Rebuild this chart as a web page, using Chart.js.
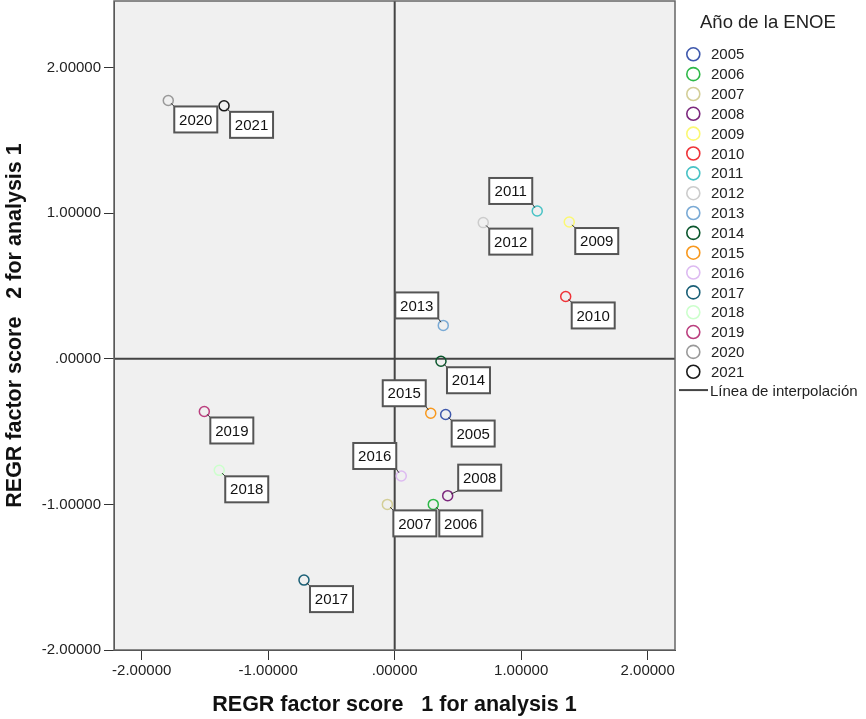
<!DOCTYPE html>
<html>
<head>
<meta charset="utf-8">
<script src="https://cdn.jsdelivr.net/npm/chart.js@4/dist/chart.umd.min.js"></script>
<style>
html,body{margin:0;padding:0;background:#fff;}
#wrap{width:866px;height:719px;position:relative;}
</style>
</head>
<body>
<div id="wrap"><canvas id="c" width="866" height="719"></canvas></div>
<script>
// ---- data ----
const years = ['2005','2006','2007','2008','2009','2010','2011','2012','2013','2014','2015','2016','2017','2018','2019','2020','2021'];
const scoreX = [0.403, 0.305, -0.058, 0.419, 1.380, 1.352, 1.127, 0.700, 0.384, 0.366, 0.285, 0.052, -0.717, -1.387, -1.505, -1.790, -1.349];
const scoreY = [-0.383, -1.000, -1.000, -0.940, 0.939, 0.428, 1.015, 0.935, 0.229, -0.017, -0.374, -0.805, -1.520, -0.766, -0.362, 1.774, 1.737];
const xTicks = [-2, -1, 0, 1, 2];
const yTicks = [-2, -1, 0, 1, 2];
const legendTitle = 'Año de la ENOE';
const refLineLabel = 'Línea de interpolación';
const xTitle = 'REGR factor score   1 for analysis 1';
const yTitle = 'REGR factor score   2 for analysis 1';

// ---- styles ----
const colors = ['#3E58AC','#2EB848','#D3CE97','#7C287D','#FBF873','#EF3338','#48C2C5','#CCCCCC','#7AAAD5','#0A562C','#F8981D','#DDBAF1','#1A5F76','#CCFFCC','#BB3F7F','#999999','#1a1a1a'];
const labelPlace = {'2011':'tl','2013':'tl','2015':'tl','2016':'tl','2008':'tr'};
const FONT = '"Liberation Sans", Arial, sans-serif';

function fmt(v){
  let s = Math.abs(v).toFixed(5);
  if (s.startsWith('0.')) s = s.slice(1);
  return (v < 0 ? '-' : '') + s;
}

const datasets = years.map((y, i) => ({
  label: y,
  data: [{x: scoreX[i], y: scoreY[i]}],
  borderColor: colors[i],
  backgroundColor: 'rgba(0,0,0,0)',
  pointRadius: 5,
  pointHoverRadius: 5,
  pointBorderWidth: 1.5,
  pointStyle: 'circle'
}));

const bgPlugin = {
  id: 'bg',
  beforeDraw(chart) {
    const {ctx, chartArea: a} = chart;
    ctx.save();
    ctx.fillStyle = '#F0F0F0';
    ctx.fillRect(a.left, a.top, a.right - a.left, a.bottom - a.top);
    ctx.restore();
  },
  beforeDatasetsDraw(chart) {
    const {ctx, chartArea: a, scales} = chart;
    const x0 = scales.x.getPixelForValue(0);
    const y0 = scales.y.getPixelForValue(0);
    ctx.save();
    ctx.strokeStyle = '#444';
    ctx.lineWidth = 2;
    ctx.beginPath();
    ctx.moveTo(x0, a.top); ctx.lineTo(x0, a.bottom);
    ctx.moveTo(a.left, y0); ctx.lineTo(a.right, y0);
    ctx.stroke();
    // frame
    ctx.strokeStyle = '#666';
    ctx.lineWidth = 1.5;
    ctx.strokeRect(a.left, a.top, a.right - a.left, a.bottom - a.top);
    ctx.restore();
  },
  afterDatasetsDraw(chart) {
    const {ctx} = chart;
    ctx.save();
    ctx.font = '15px ' + FONT;
    ctx.textAlign = 'center';
    ctx.textBaseline = 'middle';
    const bw = 43, bh = 26;
    chart.data.datasets.forEach((ds, i) => {
      const el = chart.getDatasetMeta(i).data[0];
      if (!el) return;
      const px = el.x, py = el.y;
      const place = labelPlace[ds.label] || 'br';
      let bx, by, cx, cy;
      if (place === 'tl') { bx = px - 48; by = py - 33; cx = bx + bw; cy = by + bh; }
      else if (place === 'tr') { bx = px + 10.5; by = py - 31; cx = bx; cy = by + bh; }
      else { bx = px + 6; by = py + 6; cx = bx; cy = by; }
      // leader
      ctx.strokeStyle = '#333';
      ctx.lineWidth = 1;
      ctx.beginPath();
      const dx = cx - px, dy = cy - py, d = Math.hypot(dx, dy);
      ctx.moveTo(px + dx / d * 4, py + dy / d * 4);
      ctx.lineTo(cx, cy);
      ctx.stroke();
      ctx.fillStyle = '#fff';
      ctx.fillRect(bx, by, bw, bh);
      ctx.strokeStyle = '#555';
      ctx.lineWidth = 2;
      ctx.strokeRect(bx, by, bw, bh);
      ctx.fillStyle = '#111';
      ctx.fillText(ds.label, bx + bw / 2, by + bh / 2 + 1);
    });
    ctx.restore();
  },
  afterDraw(chart) {
    const {ctx} = chart;
    ctx.save();
    ctx.fillStyle = '#222';
    ctx.textBaseline = 'middle';
    ctx.textAlign = 'left';
    ctx.font = '18.5px ' + FONT;
    ctx.fillText(legendTitle, 700, 23);
    ctx.font = '15px ' + FONT;
    const step = 19.84;
    chart.data.datasets.forEach((ds, i) => {
      const y = 54.3 + i * step;
      ctx.strokeStyle = ds.borderColor;
      ctx.lineWidth = 1.6;
      ctx.beginPath();
      ctx.arc(693.3, y, 6.5, 0, Math.PI * 2);
      ctx.stroke();
      ctx.fillStyle = '#222';
      ctx.fillText(ds.label, 711, y + 1);
    });
    const ly = 54.3 + years.length * step;
    ctx.strokeStyle = '#444';
    ctx.lineWidth = 2;
    ctx.beginPath();
    ctx.moveTo(679, ly - 1.5); ctx.lineTo(708, ly - 1.5);
    ctx.stroke();
    ctx.fillStyle = '#222';
    ctx.fillText(refLineLabel, 710, ly);
    ctx.restore();
  }
};

new Chart(document.getElementById('c'), {
  type: 'scatter',
  data: { datasets },
  options: {
    responsive: false,
    animation: false,
    events: [],
    layout: { autoPadding: false, padding: { left: 0, top: 1, right: 191, bottom: 0 } },
    plugins: { legend: { display: false }, tooltip: { enabled: false } },
    scales: {
      x: {
        type: 'linear',
        min: -2.219, max: 2.216,
        afterFit(s) { s.height = 69; s.paddingLeft = 0; s.paddingRight = 0; },
        afterBuildTicks(s) { s.ticks = xTicks.map(v => ({value: v})); },
        grid: { drawOnChartArea: false, drawTicks: true, tickLength: 10, color: '#333', lineWidth: 1 },
        border: { display: true, color: '#333', width: 1 },
        ticks: { callback: v => fmt(v), color: '#222', font: { size: 15, family: FONT }, padding: 2, maxRotation: 0, autoSkip: false },
        title: { display: true, text: xTitle, color: '#111', font: { size: 21.5, weight: 'bold', family: FONT }, padding: { top: 0, bottom: 1 } }
      },
      y: {
        type: 'linear',
        min: -2.0, max: 2.457,
        afterFit(s) { s.width = 114; s.paddingTop = 0; s.paddingBottom = 0; },
        afterBuildTicks(s) { s.ticks = yTicks.map(v => ({value: v})); },
        grid: { drawOnChartArea: false, drawTicks: true, tickLength: 10, color: '#333', lineWidth: 1 },
        border: { display: true, color: '#333', width: 1 },
        ticks: { callback: v => fmt(v), color: '#222', font: { size: 15, family: FONT }, padding: 3, autoSkip: false },
        title: { display: true, text: yTitle, color: '#111', font: { size: 21.5, weight: 'bold', family: FONT }, padding: { top: 2, bottom: 0 } }
      }
    }
  },
  plugins: [bgPlugin]
});
</script>
</body>
</html>
